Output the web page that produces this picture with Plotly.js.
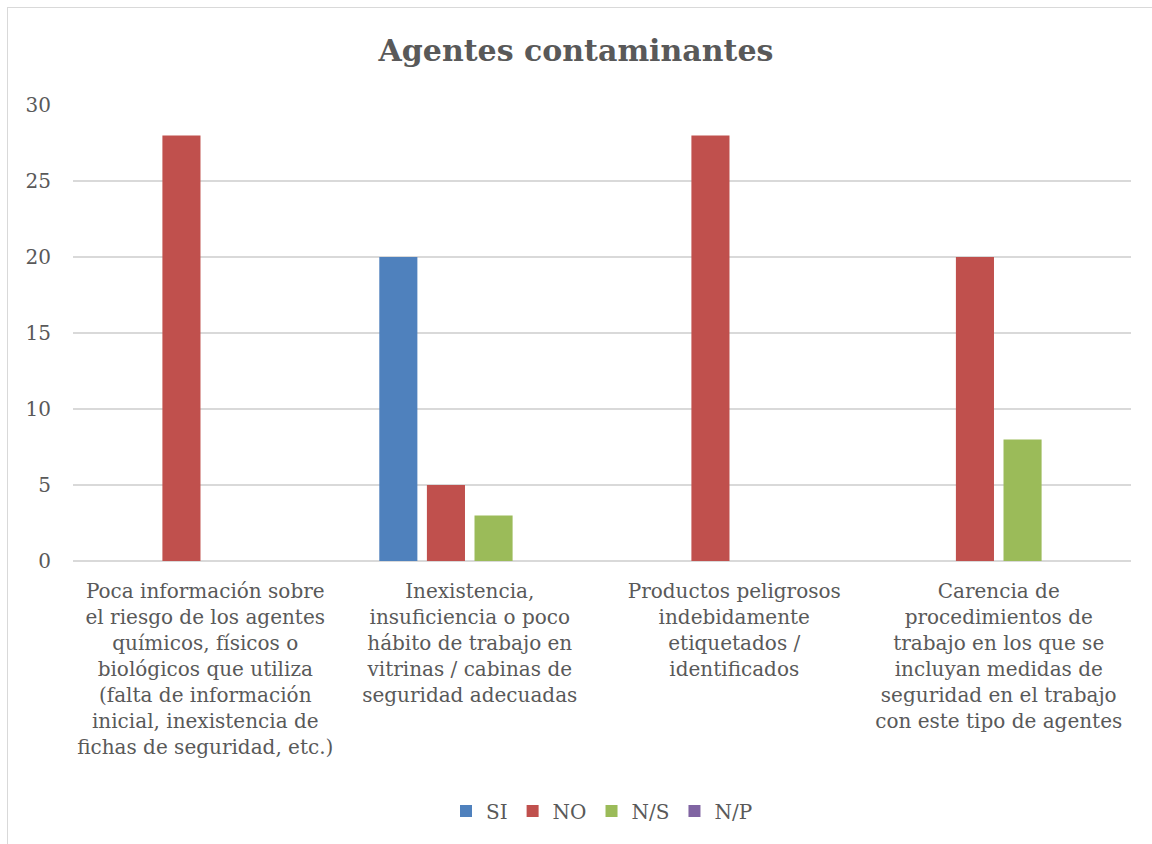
<!DOCTYPE html>
<html>
<head>
<meta charset="utf-8">
<script src="https://cdn.plot.ly/plotly-3.0.1.min.js"></script>
<style>
html,body{margin:0;padding:0;background:#fff;}
#frame{position:absolute;left:7px;top:7px;width:1160px;height:860px;border:1px solid #d9d9d9;box-sizing:border-box;}
#chart{position:absolute;left:0;top:0;width:1152px;height:844px;}
</style>
</head>
<body>
<div id="frame"></div>
<div id="chart"></div>
<script>
const categories = [
  "Poca información sobre<br>el riesgo de los agentes<br>químicos, físicos o<br>biológicos que utiliza<br>(falta de información<br>inicial, inexistencia de<br>fichas de seguridad, etc.)",
  "Inexistencia,<br>insuficiencia o poco<br>hábito de trabajo en<br>vitrinas / cabinas de<br>seguridad adecuadas",
  "Productos peligrosos<br>indebidamente<br>etiquetados /<br>identificados",
  "Carencia de<br>procedimientos de<br>trabajo en los que se<br>incluyan medidas de<br>seguridad en el trabajo<br>con este tipo de agentes"
];
const seriesNames = ["SI", "NO", "N/S", "N/P"];
const valuesSI = [0, 20, 0, 0];
const valuesNO = [28, 5, 28, 20];
const valuesNS = [0, 3, 0, 8];
const valuesNP = [0, 0, 0, 0];
const seriesColors = ["#4f81bd", "#c0504d", "#9bbb59", "#8064a2"];
const yTicks = [0, 5, 10, 15, 20, 25, 30];

const allValues = [valuesSI, valuesNO, valuesNS, valuesNP];
const data = allValues.map((vals, i) => ({
  type: "bar",
  name: seriesNames[i],
  x: categories,
  y: vals,
  marker: {color: seriesColors[i]},
  hoverinfo: "x+y+name"
}));

const font = "'DejaVu Serif', serif";
const layout = {
  width: 1152,
  height: 844,
  paper_bgcolor: "rgba(0,0,0,0)",
  plot_bgcolor: "rgba(0,0,0,0)",
  margin: {l: 73, r: 21, t: 105, b: 283},
  title: {
    text: "<b>Agentes contaminantes</b>",
    font: {family: font, size: 30, color: "#595959"},
    x: 0.5, xanchor: "center", y: 0.94, yanchor: "middle"
  },
  barmode: "group",
  bargap: 0.28,
  bargroupgap: 0.2,
  xaxis: {
    type: "category",
    tickfont: {family: font, size: 20, color: "#595959"},
    showgrid: false,
    showline: false,
    ticks: "",
    tickangle: 0,
    ticklabelstandoff: 16,
    automargin: false
  },
  yaxis: {
    range: [0, 30],
    tickvals: yTicks,
    ticktext: yTicks.map(String),
    tickfont: {family: font, size: 20, color: "#595959"},
    gridcolor: "#d9d9d9",
    gridwidth: 1.5,
    zeroline: true,
    zerolinecolor: "#d9d9d9",
    zerolinewidth: 1.5,
    showline: false,
    ticks: "",
    ticklabelstandoff: 21,
    automargin: false
  },
  showlegend: true,
  legend: {
    orientation: "h",
    x: 0.5, xanchor: "center",
    y: -0.548, yanchor: "middle",
    font: {family: font, size: 20, color: "#595959"},
    itemwidth: 20,
    traceorder: "normal"
  }
};

Plotly.newPlot("chart", data, layout, {displayModeBar: false, staticPlot: true});
</script>
</body>
</html>
